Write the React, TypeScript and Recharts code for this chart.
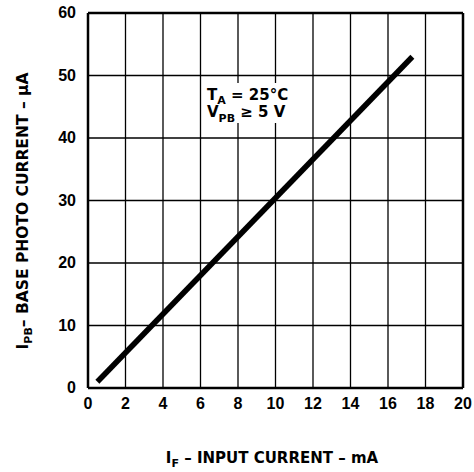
import React from 'react';
import { LineChart, Line, XAxis, YAxis, CartesianGrid, ReferenceLine, Customized } from 'recharts';

const inputCurrentMA = [0.5, 17.3];
const basePhotoCurrentUA = [1, 53];
const xTicks = [0, 2, 4, 6, 8, 10, 12, 14, 16, 18, 20];
const yTicks = [0, 10, 20, 30, 40, 50, 60];

const data = inputCurrentMA.map((x, i) => ({ x, y: basePhotoCurrentUA[i] }));

const FONT = '"Liberation Sans", Arial, Helvetica, sans-serif';
const LFONT = '"DejaVu Sans", "Liberation Sans", sans-serif';

const XTick = (props: any) => {
  const { x, y, payload } = props;
  return (
    <text x={x} y={y + 21} textAnchor="middle" fontFamily={FONT} fontWeight="bold" fontSize={16} fill="#000">
      {payload.value}
    </text>
  );
};

const YTick = (props: any) => {
  const { x, y, payload } = props;
  return (
    <text x={x - 12} y={y + 5} textAnchor="end" fontFamily={FONT} fontWeight="bold" fontSize={16} fill="#000">
      {payload.value}
    </text>
  );
};

const Annotations = () => (
  <g fontFamily={LFONT} fontWeight="bold" fill="#000">
    <rect x={204} y={83} width={86} height={40} fill="#fff" />
    <text x={207} y={100} fontSize={15}>
      <tspan>T</tspan>
      <tspan dy={4} fontSize={11}>A</tspan>
      <tspan dy={-4}> = 25°C</tspan>
    </text>
    <text x={207} y={117} fontSize={15}>
      <tspan>V</tspan>
      <tspan dy={5} fontSize={11}>PB</tspan>
      <tspan dy={-5}> ≥ 5 V</tspan>
    </text>
    <text x={272} y={463} fontSize={15} textAnchor="middle">
      <tspan>I</tspan>
      <tspan dy={4} fontSize={11}>F</tspan>
      <tspan dy={-4}> – INPUT CURRENT – mA</tspan>
    </text>
    <text transform="rotate(-90)" x={-211} y={28} fontSize={15.5} textAnchor="middle">
      <tspan>I</tspan>
      <tspan dy={4} fontSize={11}>PB</tspan>
      <tspan dy={-4}>– BASE PHOTO CURRENT – µA</tspan>
    </text>
  </g>
);

export default function App() {
  return (
    <div style={{ position: 'absolute', left: 0, top: 0, width: 474, height: 472, background: '#fff' }}>
      <LineChart width={474} height={472} data={data} margin={{ top: 13, right: 11, bottom: 54, left: 0 }}>
        <CartesianGrid stroke="#000" strokeWidth={1.3} />
        <XAxis
          dataKey="x"
          type="number"
          domain={[0, 20]}
          ticks={xTicks}
          axisLine={false}
          tickLine={false}
          tickSize={0}
          tickMargin={0}
          height={30}
          tick={<XTick />}
          interval={0}
        />
        <YAxis
          type="number"
          domain={[0, 60]}
          ticks={yTicks}
          axisLine={false}
          tickLine={false}
          tickSize={0}
          tickMargin={0}
          width={88}
          tick={<YTick />}
          interval={0}
        />
        <ReferenceLine x={0} stroke="#000" strokeWidth={2.5} />
        <ReferenceLine x={20} stroke="#000" strokeWidth={2.5} />
        <ReferenceLine y={0} stroke="#000" strokeWidth={2.5} />
        <ReferenceLine y={60} stroke="#000" strokeWidth={2.5} />
        <Line dataKey="y" type="linear" stroke="#000" strokeWidth={5.5} dot={false} isAnimationActive={false} strokeLinecap="butt" />
        <Customized component={Annotations} />
      </LineChart>
    </div>
  );
}
